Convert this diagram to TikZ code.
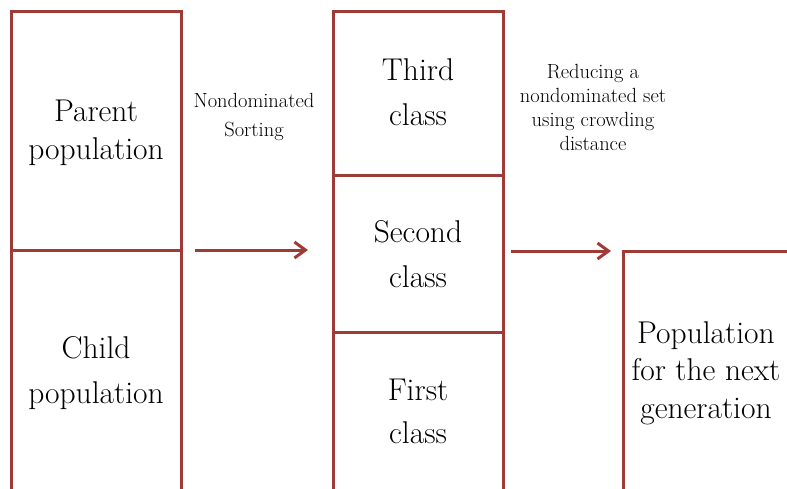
\documentclass[tikz,border=0pt]{standalone}
\usepackage{fontspec}
\usetikzlibrary{arrows.meta}
\definecolor{frame}{HTML}{9E3B37}
\tikzset{
  wall/.style={draw=frame, line width=3pt},
  flow/.style={draw=frame, line width=3pt, -{Straight Barb[length=11pt,width=16pt,line width=3pt]}},
  bigtext/.style={align=center, inner sep=0pt, anchor=base, font=\fontsize{31.5}{38}\selectfont},
  smalltext/.style={align=center, inner sep=0pt, anchor=base, font=\fontsize{20.5}{24}\selectfont},
}
\begin{document}
\begin{tikzpicture}[x=1pt, y=-1pt]
\useasboundingbox (0,0) rectangle (787,488);

% left column: parent over child population, open at the bottom
\draw[wall] (11.5,490) -- (11.5,11.5) -- (181.5,11.5) -- (181.5,490);
\draw[wall] (11.5,250) -- (181.5,250);
\node[bigtext, font=\fontsize{31.5}{37.5}\selectfont] (parent) at (96,159) {Parent\\population};
\node[bigtext, font=\fontsize{31.5}{45}\selectfont] (child) at (96,403) {Child\\population};

% middle column: the sorted classes
\draw[wall] (333.5,490) -- (333.5,11.5) -- (503,11.5) -- (503,490);
\draw[wall] (333.5,175) -- (503,175);
\draw[wall] (333.5,332.5) -- (503,332.5);
\node[bigtext, font=\fontsize{31.5}{45}\selectfont] (third) at (418,125) {Third\\class};
\node[bigtext, font=\fontsize{31.5}{45}\selectfont] (second) at (418,287) {Second\\class};
\node[bigtext, font=\fontsize{31.5}{43}\selectfont] (first) at (418,443) {First\\class};

% right column: next generation
\draw[wall] (623.5,490) -- (623.5,251) -- (790,251);
\node[bigtext, font=\fontsize{31.5}{37.5}\selectfont] (next) at (706,418) {Population\\for the next\\generation};

% connectors
\coordinate (a1s) at (195,250);
\coordinate (a1e) at (308,250);
\coordinate (a2s) at (511,251);
\coordinate (a2e) at (611,251);
\draw[flow] (a1s) -- (a1e);
\draw[flow] (a2s) -- (a2e);

% step labels
\node[smalltext, font=\fontsize{20.5}{29}\selectfont] (sortlbl) at (254,136) {Nondominated\\Sorting};
\node[smalltext] (reducelbl) at (593,150.7) {Reducing a\\nondominated set\\using crowding\\distance};
\end{tikzpicture}
\end{document}
